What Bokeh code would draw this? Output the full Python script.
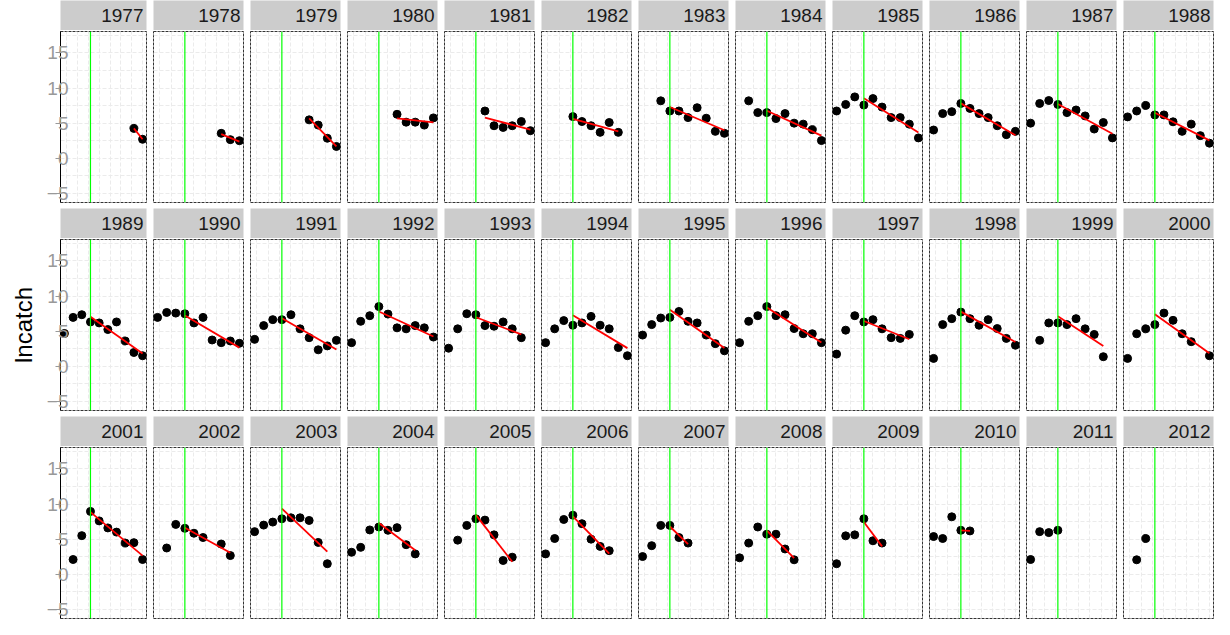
import numpy as np
from bokeh.embed import file_html
from bokeh.layouts import gridplot
from bokeh.models import ColumnDataSource, FixedTicker, Label, Range1d, Span, Title
from bokeh.plotting import figure
from bokeh.resources import INLINE

# year classes, one panel each
cohorts = [1977, 1978, 1979, 1980, 1981, 1982, 1983, 1984, 1985, 1986, 1987, 1988,
           1989, 1990, 1991, 1992, 1993, 1994, 1995, 1996, 1997, 1998, 1999, 2000,
           2001, 2002, 2003, 2004, 2005, 2006, 2007, 2008, 2009, 2010, 2011, 2012]

# ages observed for each year class
ages = [
    [9, 10],
    [8, 9, 10],
    [7, 8, 9, 10],
    [6, 7, 8, 9, 10],
    [5, 6, 7, 8, 9, 10],
    [4, 5, 6, 7, 8, 9],
    [3, 4, 5, 6, 7, 8, 9, 10],
    [2, 3, 4, 5, 6, 7, 8, 9, 10],
    [1, 2, 3, 4, 5, 6, 7, 8, 9, 10],
    [1, 2, 3, 4, 5, 6, 7, 8, 9, 10],
    [1, 2, 3, 4, 5, 6, 7, 8, 9, 10],
    [1, 2, 3, 4, 5, 6, 7, 8, 9, 10],
    [1, 2, 3, 4, 5, 6, 7, 8, 9, 10],
    [1, 2, 3, 4, 5, 6, 7, 8, 9, 10],
    [1, 2, 3, 4, 5, 6, 7, 8, 9, 10],
    [1, 2, 3, 4, 5, 6, 7, 8, 9, 10],
    [1, 2, 3, 4, 5, 6, 7, 8, 9],
    [1, 2, 3, 4, 5, 6, 7, 8, 9, 10],
    [1, 2, 3, 4, 5, 6, 7, 8, 9, 10],
    [1, 2, 3, 4, 5, 6, 7, 8, 9, 10],
    [1, 2, 3, 4, 5, 6, 7, 8, 9],
    [1, 2, 3, 4, 5, 6, 7, 8, 9, 10],
    [2, 3, 4, 5, 6, 7, 8, 9],
    [1, 2, 3, 4, 5, 6, 7, 8, 10],
    [2, 3, 4, 5, 6, 7, 8, 9, 10],
    [2, 3, 4, 5, 6, 8, 9],
    [1, 2, 3, 4, 5, 6, 7, 8, 9],
    [1, 2, 3, 4, 5, 6, 7, 8],
    [2, 3, 4, 5, 6, 7, 8],
    [1, 2, 3, 4, 5, 6, 7, 8],
    [1, 2, 3, 4, 5, 6],
    [1, 2, 3, 4, 5, 6, 7],
    [1, 2, 3, 4, 5, 6],
    [1, 2, 3, 4, 5],
    [1, 2, 3, 4],
    [2, 3],
]

# log catch at those ages
lncatch = [
    [4.25, 2.7],
    [3.55, 2.65, 2.5],
    [5.47, 4.72, 2.85, 1.68],
    [6.26, 5.14, 5.14, 4.72, 5.75],
    [6.73, 4.63, 4.39, 4.63, 5.23, 3.93],
    [5.93, 5.23, 4.63, 3.69, 5.09, 3.69],
    [8.18, 6.73, 6.73, 5.79, 7.2, 5.7, 3.83, 3.55],
    [8.18, 6.5, 6.5, 5.65, 6.36, 5.0, 4.86, 4.07, 2.52],
    [6.73, 7.66, 8.74, 7.57, 8.5, 7.29, 5.79, 5.79, 4.86, 2.9],
    [4.02, 6.36, 6.64, 7.8, 7.1, 6.36, 5.79, 4.63, 3.36, 3.83],
    [5.0, 7.8, 8.22, 7.66, 6.5, 6.87, 6.03, 4.16, 5.09, 2.9],
    [5.89, 6.73, 7.52, 6.17, 6.17, 5.19, 3.83, 4.86, 3.22, 2.15],
    [4.67, 6.96, 7.34, 6.31, 6.17, 5.23, 6.31, 3.6, 1.96, 1.5],
    [6.96, 7.66, 7.57, 7.48, 6.17, 6.96, 3.74, 3.36, 3.6, 3.27],
    [3.83, 5.79, 6.64, 6.64, 7.34, 5.33, 4.07, 2.34, 2.9, 3.69],
    [3.36, 6.4, 7.2, 8.5, 7.43, 5.47, 5.33, 5.79, 5.47, 4.16],
    [2.57, 5.33, 7.48, 7.34, 5.79, 5.7, 6.31, 5.33, 4.07],
    [3.36, 5.33, 6.5, 5.84, 6.17, 7.1, 5.84, 5.33, 2.66, 1.5],
    [4.44, 5.93, 6.87, 6.96, 7.8, 6.4, 6.17, 4.44, 3.22, 2.2],
    [3.36, 6.4, 7.2, 8.5, 7.2, 7.34, 5.37, 4.63, 4.63, 3.36],
    [1.73, 5.14, 7.2, 6.31, 6.64, 5.33, 4.07, 3.97, 4.53],
    [1.12, 5.93, 6.78, 7.71, 6.78, 5.84, 6.64, 5.37, 3.97, 2.99],
    [3.69, 6.17, 6.17, 5.93, 6.78, 5.33, 4.53, 1.36],
    [1.12, 4.63, 5.33, 5.93, 7.57, 6.54, 4.63, 3.5, 1.5],
    [2.1, 5.5, 8.95, 7.6, 6.6, 6.0, 4.45, 4.5, 2.1],
    [3.74, 7.1, 6.54, 5.84, 5.23, 4.3, 2.66],
    [6.07, 7.0, 7.43, 7.9, 8.04, 8.04, 7.66, 4.53, 1.5],
    [3.13, 3.83, 6.31, 6.73, 6.26, 6.64, 4.21, 2.9],
    [4.86, 6.96, 7.9, 7.71, 5.61, 1.96, 2.43],
    [2.9, 5.09, 7.8, 8.41, 7.2, 5.0, 3.97, 3.36],
    [2.52, 4.07, 6.96, 6.96, 5.23, 4.44],
    [2.34, 4.44, 6.73, 5.7, 5.7, 3.6, 2.06],
    [1.5, 5.47, 5.61, 7.9, 4.77, 4.44],
    [5.37, 5.09, 8.18, 6.26, 6.17],
    [2.1, 6.07, 5.93, 6.26],
    [2.06, 5.09],
]

ref_age = 4                      # first age of the catch curve (green line)
y_ticks = [-5, 0, 5, 10, 15]
y_minor = [-2.5, 2.5, 7.5, 12.5, 17.5]
x_ticks = [2.5, 5, 7.5, 10]
x_minor = [1.25, 3.75, 6.25, 8.75]
y_title = "lncatch"

NCOL = 12
FONT = "Liberation Sans"
PANEL_W, PANEL_H, STRIP_H = 90, 173, 30
LEFT, GAP_X, GAP_Y = 56, 6, 5
GRID_COL = "#ebebeb"

x_range = Range1d(0.55, 10.45)
y_range = Range1d(-6.3, 18.05)


def make_strip(year, col, row):
    left = LEFT if col == 0 else GAP_X
    top = 0 if row == 0 else GAP_Y
    s = figure(width=left + PANEL_W + 1, height=top + STRIP_H,
               x_range=(0, 1), y_range=(0, 1), title=None,
               toolbar_location=None, output_backend="svg",
               x_axis_location=None, y_axis_location=None,
               min_border_left=left, min_border_right=1,
               min_border_top=top, min_border_bottom=0,
               background_fill_color="#cccccc", outline_line_color=None)
    s.grid.visible = False
    s.add_layout(Label(x=1, y=0.5, x_offset=-3, text=str(year),
                       text_align="right", text_baseline="middle",
                       text_font=FONT, text_font_size="19px", text_color="#1a1a1a"))
    return s


def make_panel(i, col, row):
    left = LEFT if col == 0 else GAP_X
    p = figure(width=left + PANEL_W + 1, height=PANEL_H,
               x_range=x_range, y_range=y_range, title=None,
               toolbar_location=None, output_backend="svg",
               x_axis_location=None,
               y_axis_location="left" if col == 0 else None,
               min_border_left=left, min_border_right=1,
               min_border_top=1, min_border_bottom=1,
               outline_line_color="#333333", outline_line_dash="3 1",
               outline_line_width=1)

    p.xgrid.ticker = FixedTicker(ticks=x_ticks, minor_ticks=x_minor)
    p.ygrid.ticker = FixedTicker(ticks=y_ticks, minor_ticks=y_minor)
    for g in (p.xgrid, p.ygrid):
        g.grid_line_color = GRID_COL
        g.grid_line_dash = "4 2"
        g.minor_grid_line_color = GRID_COL
        g.minor_grid_line_dash = "4 2"

    if col == 0:
        ax = p.yaxis[0]
        ax.ticker = FixedTicker(ticks=y_ticks, minor_ticks=y_minor)
        ax.major_label_text_font = FONT
        ax.major_label_text_font_size = "19px"
        ax.major_label_text_color = "#999999"
        ax.major_label_standoff = -13
        ax.major_tick_out = 5
        ax.major_tick_in = 0
        ax.major_tick_line_color = "#999999"
        ax.minor_tick_line_color = None
        ax.axis_line_color = "black"
        if row == 1:
            # one shared y title, centred on the whole grid
            p.add_layout(Title(text=y_title, align="center", offset=14,
                               standoff=14, text_font=FONT,
                               text_font_size="24px", text_font_style="normal",
                               text_color="black"), "left")

    a = ages[i]
    y = lncatch[i]
    src = ColumnDataSource(dict(age=a, lncatch=y))
    p.scatter("age", "lncatch", source=src, size=8, color="black")

    # linear fit on the descending limb (age >= ref_age)
    fa = np.array([v for v in a if v >= ref_age], dtype=float)
    fy = np.array([y[k] for k, v in enumerate(a) if v >= ref_age], dtype=float)
    if len(fa) >= 2:
        slope, icpt = np.polyfit(fa, fy, 1)
        xs = [fa.min(), fa.max()]
        p.line(xs, [icpt + slope * xs[0], icpt + slope * xs[1]],
               line_color="red", line_width=1.8)

    p.add_layout(Span(location=ref_age, dimension="height",
                      line_color="#00ff00", line_width=1.2))
    return p


rows = []
for r in range(3):
    strips, panels = [], []
    for c in range(NCOL):
        i = r * NCOL + c
        strips.append(make_strip(cohorts[i], c, r))
        panels.append(make_panel(i, c, r))
    rows.append(strips)
    rows.append(panels)

grid = gridplot(rows, toolbar_location=None)

open("out.html", "w").write(file_html(grid, INLINE))
